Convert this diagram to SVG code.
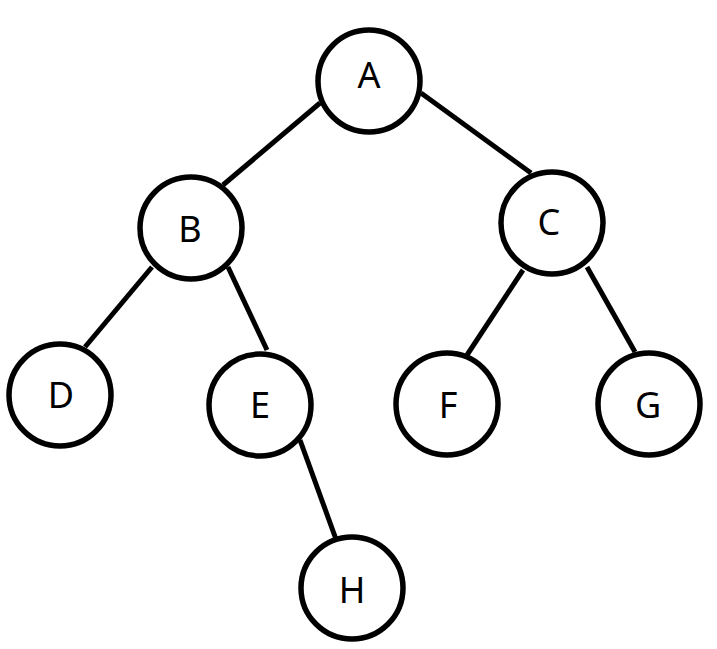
<svg xmlns="http://www.w3.org/2000/svg" width="717" height="649" viewBox="0 0 717 649">
<style>
.node circle{fill:#fff;stroke:#000;stroke-width:5.5}
.node text{font-family:"Noto Sans","Open Sans","DejaVu Sans",sans-serif;font-size:36px;fill:#000;text-anchor:middle}
.edges line{stroke:#000;stroke-width:5;stroke-linecap:butt}
</style>
<rect width="717" height="649" fill="#fff"/>
<g id="edges" class="edges">
<line x1="320" y1="103" x2="223" y2="185"/>
<line x1="421" y1="93" x2="531" y2="173"/>
<line x1="152" y1="267" x2="85" y2="347"/>
<line x1="228" y1="267" x2="267" y2="350"/>
<line x1="523" y1="270" x2="467" y2="355"/>
<line x1="587" y1="267" x2="635" y2="352"/>
<line x1="300" y1="440" x2="337" y2="542"/>
</g>
<g id="A" class="node"><circle cx="369" cy="81" r="51"/><text x="369" y="88">A</text></g>
<g id="B" class="node"><circle cx="191" cy="228" r="51"/><text x="190" y="242">B</text></g>
<g id="C" class="node"><circle cx="552" cy="223" r="51"/><text x="549" y="235">C</text></g>
<g id="D" class="node"><circle cx="60" cy="395" r="51"/><text x="61" y="408">D</text></g>
<g id="E" class="node"><circle cx="260" cy="405" r="51"/><text x="260" y="418">E</text></g>
<g id="F" class="node"><circle cx="447" cy="404" r="51"/><text x="448" y="418">F</text></g>
<g id="G" class="node"><circle cx="649" cy="404" r="51"/><text x="648" y="418">G</text></g>
<g id="H" class="node"><circle cx="352" cy="588" r="51"/><text x="352" y="603">H</text></g>
</svg>
